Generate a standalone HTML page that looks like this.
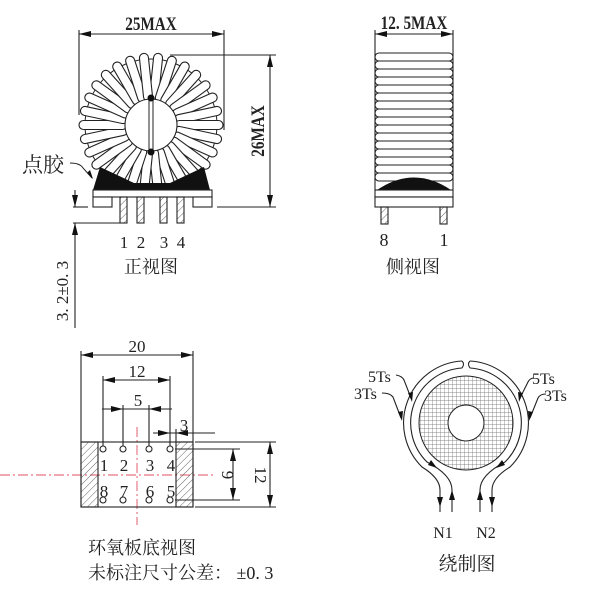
<!DOCTYPE html>
<html><head><meta charset="utf-8"><style>
html,body{margin:0;padding:0;background:#fff;width:600px;height:600px;overflow:hidden}
svg{display:block}
text{font-family:"Liberation Serif","Noto Serif CJK SC",serif;fill:#222}
.cj{font-family:"Liberation Serif","Noto Serif CJK SC","Noto Sans CJK SC",serif}
</style></head><body>
<svg width="600" height="600" viewBox="0 0 600 600" xmlns="http://www.w3.org/2000/svg">
<defs>
<pattern id="h" width="5" height="5" patternUnits="userSpaceOnUse" patternTransform="rotate(45)">
<line x1="0" y1="0" x2="0" y2="5" stroke="#555" stroke-width="0.9"/></pattern>
<pattern id="g" width="4" height="4" patternUnits="userSpaceOnUse">
<path d="M0 0H4M0 0V4" stroke="#666" stroke-width="0.7" fill="none"/></pattern>
<rect id="w" x="-4.5" y="-72" width="9" height="48" rx="4.5" fill="#fff" stroke="#222" stroke-width="1.1"/>
</defs>
<g stroke="#222" stroke-width="1.1" fill="none">
<line x1="79" y1="34" x2="224" y2="34"/>
<line x1="79" y1="30" x2="79" y2="115"/><line x1="224" y1="30" x2="224" y2="130"/>
<line x1="170" y1="55" x2="276" y2="55"/><line x1="217" y1="207" x2="276" y2="207"/>
<line x1="270" y1="55" x2="270" y2="207"/>
<line x1="73" y1="207" x2="88" y2="207"/><line x1="73" y1="223" x2="120" y2="223"/>
<line x1="75" y1="190" x2="75" y2="207"/><line x1="75" y1="223" x2="75" y2="328"/>
</g>
<g fill="#111">
<path d="M79 34l12-3v6z"/><path d="M224 34l-12-3v6z"/>
<path d="M270 55l-3 12h6z"/><path d="M270 207l-3-12h6z"/>
<path d="M75 207l-3-12h6z"/><path d="M75 223l-3 12h6z"/>
</g>
<g transform="translate(151,125)">
<circle r="66" fill="#fff" stroke="#222" stroke-width="1"/>
<use href="#w" transform="rotate(6)"/><use href="#w" transform="rotate(18)"/><use href="#w" transform="rotate(30)"/><use href="#w" transform="rotate(42)"/><use href="#w" transform="rotate(54)"/><use href="#w" transform="rotate(66)"/><use href="#w" transform="rotate(78)"/><use href="#w" transform="rotate(90)"/><use href="#w" transform="rotate(102)"/><use href="#w" transform="rotate(114)"/><use href="#w" transform="rotate(126)"/><use href="#w" transform="rotate(138)"/><use href="#w" transform="rotate(150)"/><use href="#w" transform="rotate(162)"/><use href="#w" transform="rotate(174)"/><use href="#w" transform="rotate(186)"/><use href="#w" transform="rotate(198)"/><use href="#w" transform="rotate(210)"/><use href="#w" transform="rotate(222)"/><use href="#w" transform="rotate(234)"/><use href="#w" transform="rotate(246)"/><use href="#w" transform="rotate(258)"/><use href="#w" transform="rotate(270)"/><use href="#w" transform="rotate(282)"/><use href="#w" transform="rotate(294)"/><use href="#w" transform="rotate(306)"/><use href="#w" transform="rotate(318)"/><use href="#w" transform="rotate(330)"/><use href="#w" transform="rotate(342)"/><use href="#w" transform="rotate(354)"/>
<circle r="26" fill="#fff" stroke="#222" stroke-width="1.1"/>
<line x1="-2" y1="-27" x2="-2" y2="27" stroke="#222"/><line x1="2" y1="-27" x2="2" y2="27" stroke="#222"/>
<circle cx="0" cy="-27" r="3.5" fill="#111"/><circle cx="0" cy="27" r="3.5" fill="#111"/>
</g>
<path d="M100 167L134 183H170L204 167L210 190H93Z" fill="#111"/>
<g stroke="#222" stroke-width="1.1" fill="#fff">
<rect x="93" y="190" width="119" height="7"/>
<rect x="93" y="197" width="19" height="10"/><rect x="193" y="197" width="19" height="10"/>
<rect x="120" y="197" width="7" height="26" fill="url(#h)"/><rect x="137" y="197" width="7" height="26" fill="url(#h)"/>
<rect x="160" y="197" width="7" height="26" fill="url(#h)"/><rect x="177" y="197" width="7" height="26" fill="url(#h)"/>
</g>
<path d="M70 163Q80 163 83 168L92 178" stroke="#222" fill="none"/>
<path d="M93 179l-6-6 3-3z" fill="#111"/>
<text font-size="19" text-anchor="middle" font-weight="bold" transform="translate(151,30) scale(0.8,1)">25MAX</text>
<text font-size="19" font-weight="bold" text-anchor="middle" transform="translate(264,131) rotate(-90) scale(0.8,1)">26MAX</text>
<text font-size="17" text-anchor="middle" transform="translate(68,291) rotate(-90)">3. 2±0. 3</text>
<text x="22" y="172" font-size="21" class="cj">点胶</text>
<text x="124" y="248" font-size="17" text-anchor="middle">1</text><text x="141" y="248" font-size="17" text-anchor="middle">2</text>
<text x="164" y="248" font-size="17" text-anchor="middle">3</text><text x="181" y="248" font-size="17" text-anchor="middle">4</text>
<text x="151" y="273" font-size="18" class="cj" text-anchor="middle">正视图</text>

<g stroke="#222" stroke-width="1.1" fill="none">
<line x1="375" y1="34" x2="453" y2="34"/><line x1="375" y1="30" x2="375" y2="190"/><line x1="453" y1="30" x2="453" y2="190"/>
</g>
<path d="M375 34l12-3v6z M453 34l-12-3v6z" fill="#111"/>
<text font-size="19" font-weight="bold" text-anchor="middle" transform="translate(414,29) scale(0.8,1)">12. 5MAX</text>
<g stroke="#222" stroke-width="1.1" fill="#fff">
<rect x="375" y="53" width="78" height="8" rx="4"/><rect x="375" y="61" width="78" height="8" rx="4"/><rect x="375" y="69" width="78" height="8" rx="4"/><rect x="375" y="77" width="78" height="8" rx="4"/><rect x="375" y="85" width="78" height="8" rx="4"/><rect x="375" y="93" width="78" height="8" rx="4"/><rect x="375" y="101" width="78" height="8" rx="4"/><rect x="375" y="109" width="78" height="8" rx="4"/><rect x="375" y="117" width="78" height="8" rx="4"/><rect x="375" y="125" width="78" height="8" rx="4"/><rect x="375" y="133" width="78" height="8" rx="4"/><rect x="375" y="141" width="78" height="8" rx="4"/><rect x="375" y="149" width="78" height="8" rx="4"/><rect x="375" y="157" width="78" height="8" rx="4"/><rect x="375" y="165" width="78" height="8" rx="4"/><rect x="375" y="173" width="78" height="8" rx="4"/>
</g>
<path d="M377 190Q414 165 451 190Z" fill="#111"/>
<g stroke="#222" stroke-width="1.1" fill="#fff">
<rect x="375" y="190" width="78" height="7"/><rect x="375" y="197" width="78" height="10"/>
<rect x="381" y="207" width="7" height="17" fill="url(#h)"/><rect x="440" y="207" width="7" height="17" fill="url(#h)"/>
</g>
<text x="384" y="246" font-size="18" text-anchor="middle">8</text><text x="444" y="246" font-size="18" text-anchor="middle">1</text>
<text x="413" y="273" font-size="18" class="cj" text-anchor="middle">侧视图</text>

<g stroke="#e05060" stroke-width="0.9" stroke-dasharray="10 3 2 3" fill="none">
<line x1="0" y1="475" x2="215" y2="475"/><line x1="137" y1="427" x2="137" y2="525"/>
</g>
<g stroke="#222" stroke-width="1.1" fill="none">
<rect x="81" y="442" width="112" height="65"/>
<rect x="81" y="442" width="17" height="65" fill="url(#h)"/><rect x="176" y="442" width="17" height="65" fill="url(#h)"/>
<line x1="81" y1="351" x2="81" y2="442"/><line x1="193" y1="351" x2="193" y2="442"/><line x1="81" y1="355" x2="193" y2="355"/>
<line x1="103" y1="376" x2="103" y2="446"/><line x1="170" y1="376" x2="170" y2="446"/><line x1="103" y1="380" x2="170" y2="380"/>
<line x1="123" y1="405" x2="123" y2="446"/><line x1="149" y1="405" x2="149" y2="446"/><line x1="102" y1="409" x2="172" y2="409"/>
<line x1="153" y1="433" x2="215" y2="433"/><line x1="176" y1="429" x2="176" y2="442"/>
<line x1="195" y1="442" x2="276" y2="442"/><line x1="195" y1="507" x2="276" y2="507"/>
<line x1="175" y1="449" x2="240" y2="449"/><line x1="175" y1="500" x2="240" y2="500"/>
<line x1="233" y1="449" x2="233" y2="500"/><line x1="270" y1="442" x2="270" y2="507"/>
<circle cx="103" cy="449" r="3"/><circle cx="123" cy="449" r="3"/><circle cx="149" cy="449" r="3"/><circle cx="170" cy="449" r="3"/>
<circle cx="103" cy="500" r="3"/><circle cx="123" cy="500" r="3"/><circle cx="149" cy="500" r="3"/><circle cx="170" cy="500" r="3"/>
</g>
<g fill="#111">
<path d="M81 355l12-3v6z M193 355l-12-3v6z M103 380l12-3v6z M170 380l-12-3v6z"/>
<path d="M123 409l-12-3v6z M149 409l12-3v6z M170 433l-12-3v6z M176 433l12-3v6z"/>
<path d="M233 449l-3 12h6z M233 500l-3-12h6z M270 442l-3 12h6z M270 507l-3-12h6z"/>
</g>
<text x="137" y="352" font-size="17" text-anchor="middle">20</text>
<text x="137" y="377" font-size="17" text-anchor="middle">12</text>
<text x="138" y="406" font-size="17" text-anchor="middle">5</text>
<text x="184" y="431" font-size="17" text-anchor="middle">3</text>
<text font-size="17" text-anchor="middle" transform="translate(222,475) rotate(90)">9</text>
<text font-size="17" text-anchor="middle" transform="translate(255,475) rotate(90)">12</text>
<g font-size="17" text-anchor="middle">
<text x="104" y="471">1</text><text x="124" y="471">2</text><text x="150" y="471">3</text><text x="171" y="471">4</text>
<text x="104" y="497">8</text><text x="124" y="497">7</text><text x="150" y="497">6</text><text x="171" y="497">5</text>
</g>
<text x="88" y="554" font-size="18" class="cj">环氧板底视图</text>
<text x="88" y="579" font-size="18" class="cj">未标注尺寸公差：  ±0. 3</text>

<circle cx="466" cy="423" r="47" fill="url(#g)" stroke="#222" stroke-width="1"/>
<circle cx="466" cy="423" r="18" fill="#fff" stroke="#222" stroke-width="1"/>
<g stroke="#222" stroke-width="1.1" fill="none">
<path d="M462 361A62 62 0 0 0 422 467Q440 478 440 490V512"/>
<path d="M462 368A55 55 0 0 0 427 462Q452 475 452 490V512"/>
<path d="M462 361Q465 364 462 368"/>
<path d="M470 361A62 62 0 0 1 510 467Q492 478 492 490V512"/>
<path d="M470 368A55 55 0 0 1 505 462Q480 475 480 490V512"/>
<path d="M470 361Q467 364 470 368"/>
<path d="M396 375Q402 376 404 380L411 398"/><path d="M382 393Q390 393 393 397L401 418"/>
<path d="M534 378Q530 378 528 382L520 398"/><path d="M546 394Q540 394 538 398L530 418"/>
</g>
<g fill="#111">
<path d="M440 507l-3-10h6z M452 490l-3 10h6z M480 490l-3 10h6z M492 507l-3-10h6z"/>
<path d="M412 402l-4-9 5-1z M402 421l-4-9 5-1z M519 402l4-9-5-1z M529 421l4-9-5-1z"/>
<path d="M437 468l-9-3 3-5z M496 468l9-3-3-5z"/>
</g>
<text x="368" y="382" font-size="16">5Ts</text><text x="354" y="399" font-size="16">3Ts</text>
<text x="532" y="384" font-size="16">5Ts</text><text x="544" y="401" font-size="16">3Ts</text>
<text x="443" y="538" font-size="16" text-anchor="middle">N1</text><text x="486" y="538" font-size="16" text-anchor="middle">N2</text>
<text x="467" y="570" font-size="19" class="cj" text-anchor="middle">绕制图</text>
</svg>
</body></html>
